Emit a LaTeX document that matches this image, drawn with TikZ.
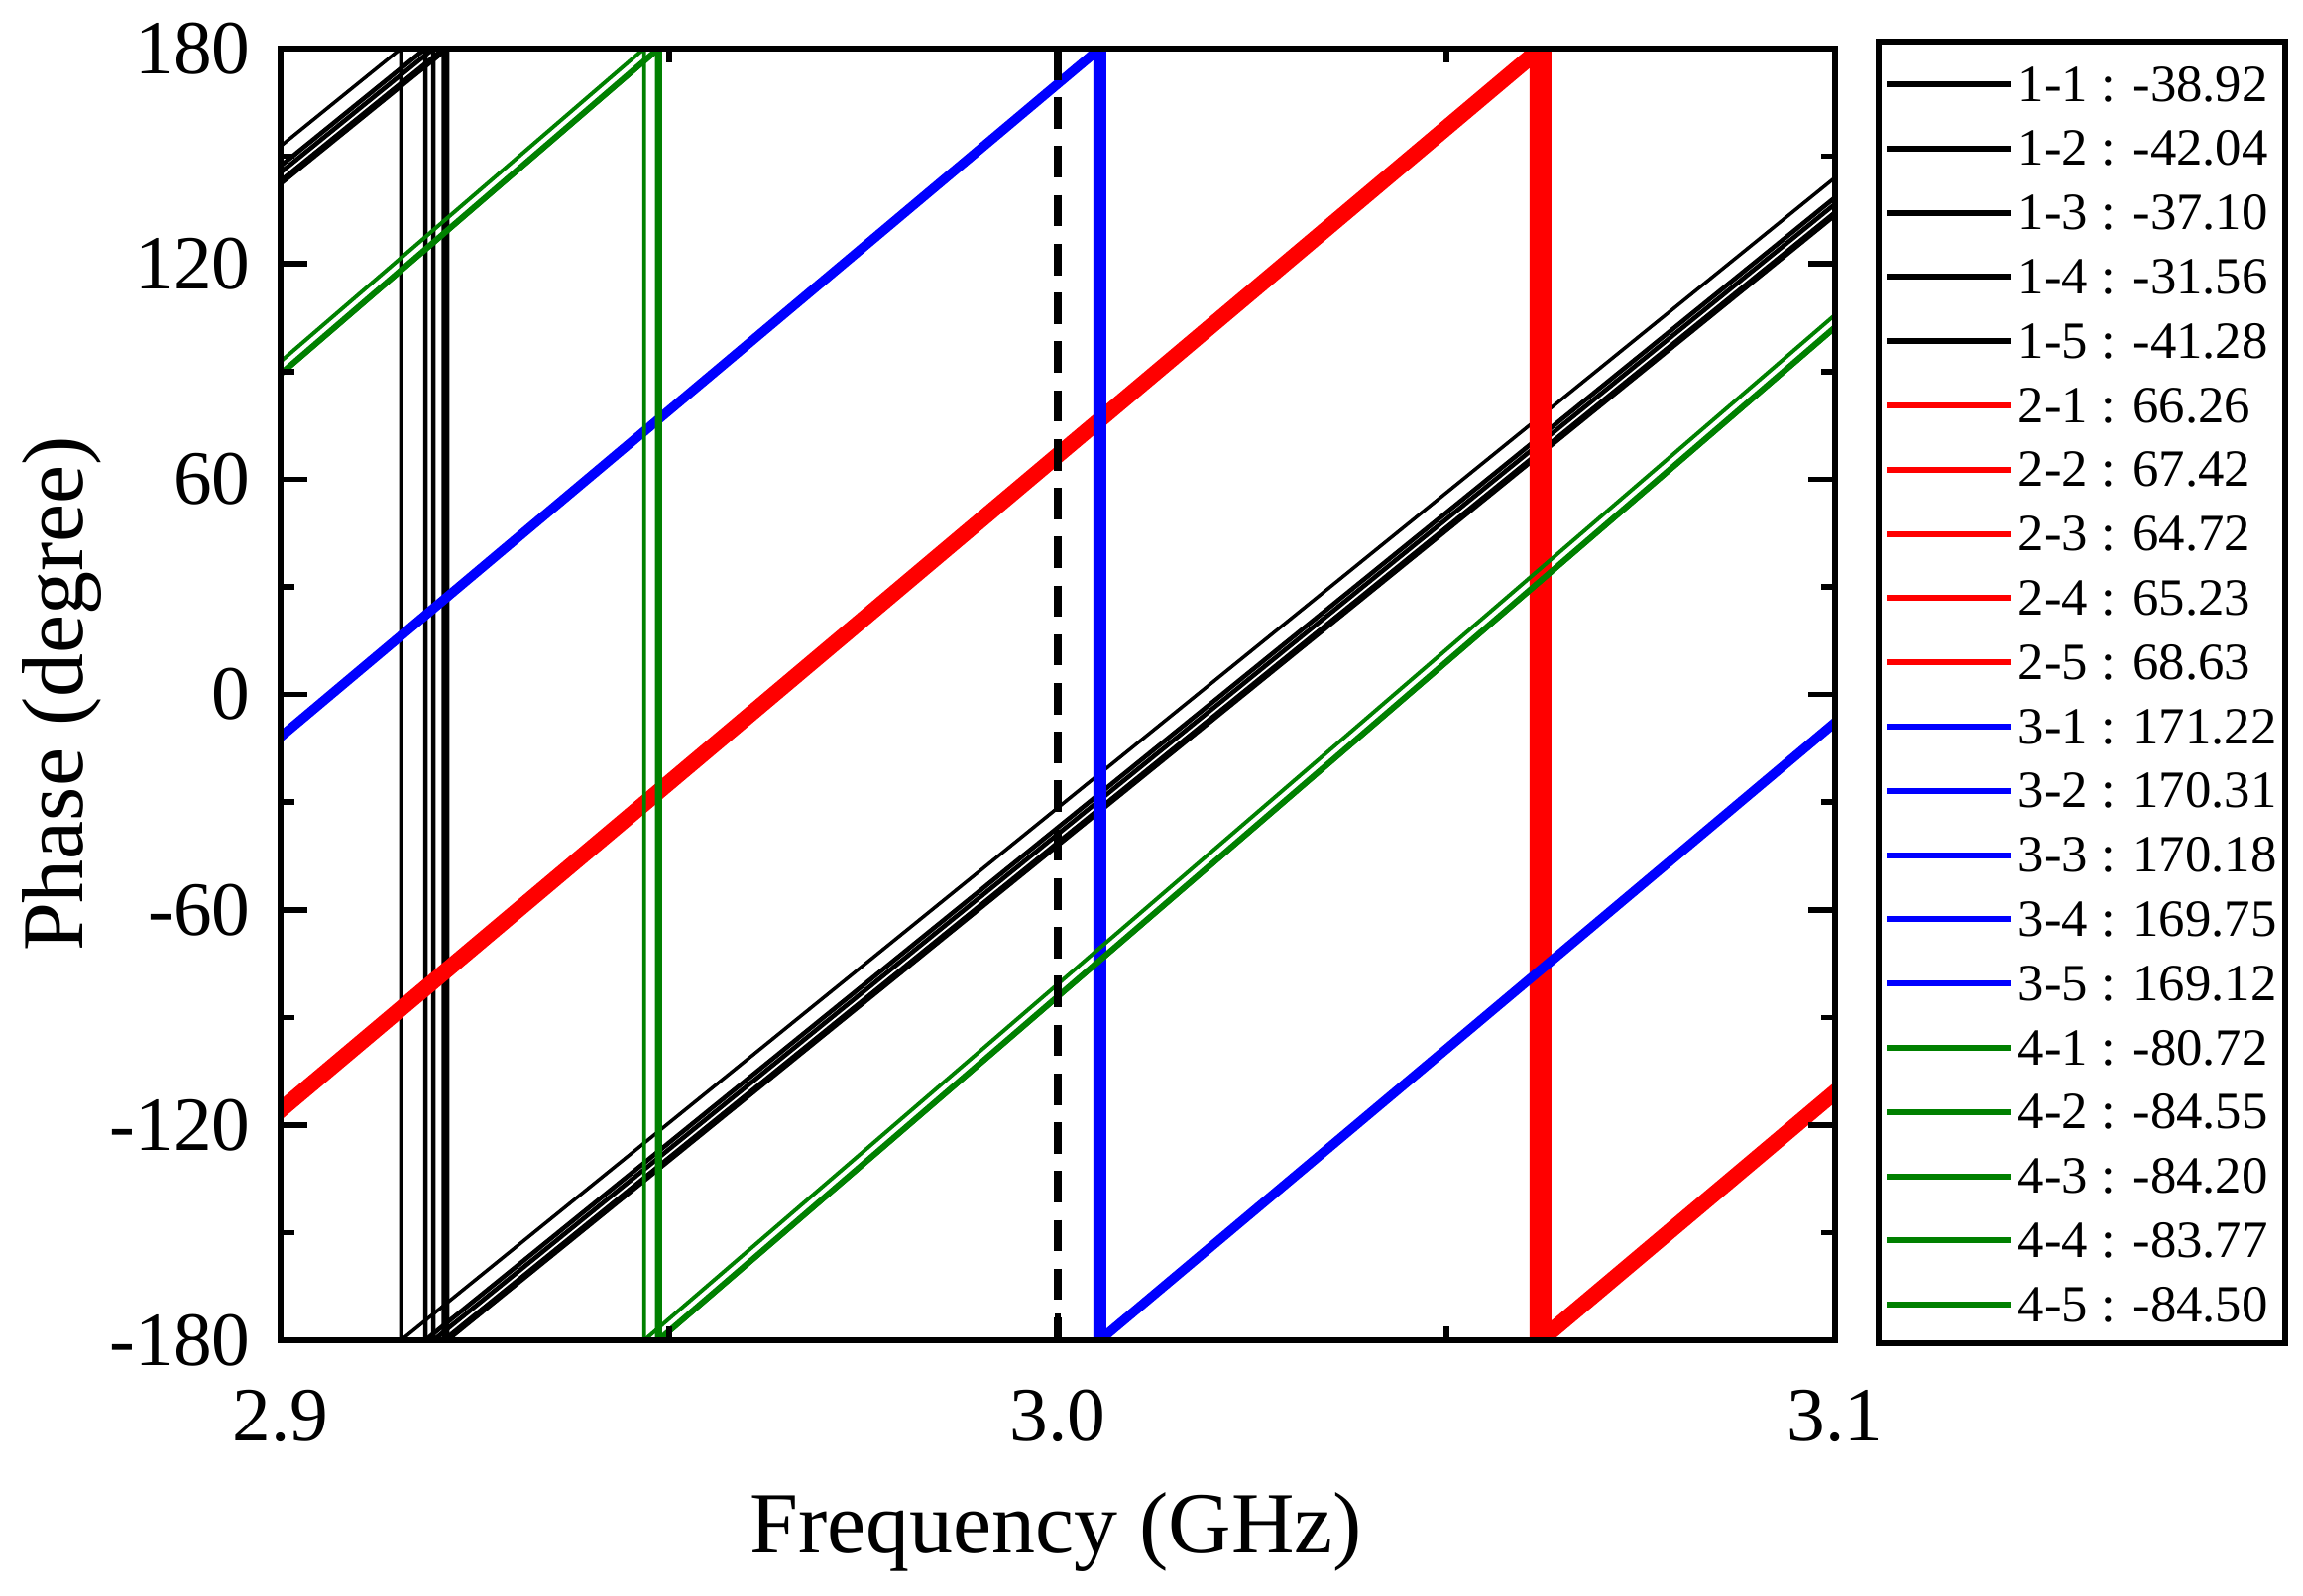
\documentclass[tikz,border=0pt]{standalone}
\usepackage{fontspec}
\setmainfont{Liberation Serif}
\definecolor{pgreen}{RGB}{0,128,0}
\definecolor{pblue}{RGB}{0,0,255}
\definecolor{pred}{RGB}{255,0,0}
\newcommand\phaseline[4]{%
\begin{scope}
\clip (283,49) rectangle (1851,1352);
\foreach \k in {-1,0,1}{
 \pgfmathsetmacro\fa{3+(-180-#2+360*\k)/#3}
 \pgfmathsetmacro\fb{3+(180-#2+360*\k)/#3}
 \pgfmathsetmacro\xa{283+(\fa-2.9)*7840}
 \pgfmathsetmacro\xb{283+(\fb-2.9)*7840}
 \draw[#1,line width=#4] (\xa,1352) -- (\xb,49) -- (\xb,1352);
}
\end{scope}}
\begin{document}
\begin{tikzpicture}[x=0.01cm,y=-0.01cm,
  tick/.style={line width=1.6pt},
  lab/.style={font=\fontsize{22}{24}\selectfont},
  leg/.style={font=\fontsize{15}{16}\selectfont,anchor=west,inner sep=0pt}]
\useasboundingbox (0,0) rectangle (2323,1610);
% series
\foreach \v in {-38.92,-42.04,-37.10,-41.28}{\phaseline{black}{\v}{1756}{1.3pt}}
\phaseline{black}{-31.56}{1756}{1.0pt}
\foreach \v in {66.26,67.42,64.72,65.23,68.63}{\phaseline{pred}{\v}{1825}{1.5pt}}
\foreach \v in {171.22,170.31,170.18,169.75,169.12}{\phaseline{pblue}{\v}{1820}{1.1pt}}
\foreach \v in {-80.72,-84.20,-84.50,-84.55,-83.77}{\phaseline{pgreen}{\v}{1865}{1.1pt}}
% dashed 3.0
\coordinate (dtop) at (1067,49);
\coordinate (dbot) at (1067,1352);
\draw[line width=2pt,dash pattern=on 9pt off 5pt] (dtop) -- (dbot);
% frame
\draw[line width=1.8pt] (283,49) rectangle (1851,1352);
% y ticks
\foreach \d [count=\i] in {180,120,60,0,-60,-120,-180}{
  \pgfmathsetmacro\yy{49+(180-\d)*3.62}
  \draw[tick] (283,\yy) -- (310,\yy);
  \draw[tick] (1851,\yy) -- (1824,\yy);
  \node[lab,anchor=east] (yl\i) at (265,\yy) {\d};
}
\foreach \d in {150,90,30,-30,-90,-150}{
  \pgfmathsetmacro\yy{49+(180-\d)*3.62}
  \draw[tick] (283,\yy) -- (297,\yy);
  \draw[tick] (1851,\yy) -- (1837,\yy);
}
% x ticks
\foreach \f/\t [count=\i] in {2.9/2.9,3.0/3.0,3.1/3.1}{
  \pgfmathsetmacro\xx{283+(\f-2.9)*7840}
  \draw[tick] (\xx,1352) -- (\xx,1325);
  \draw[tick] (\xx,49) -- (\xx,76);
  \node[lab,anchor=north] (xl\i) at (\xx,1390) {\t};
}
\foreach \f in {2.95,3.05}{
  \pgfmathsetmacro\xx{283+(\f-2.9)*7840}
  \draw[tick] (\xx,1352) -- (\xx,1338);
  \draw[tick] (\xx,49) -- (\xx,63);
}
\node[font=\fontsize{25}{28}\selectfont] (xt) at (1065,1545) {Frequency (GHz)};
\node[font=\fontsize{25}{28}\selectfont,rotate=90] (yt) at (62,700) {Phase (degree)};
% legend
\draw[line width=1.8pt] (1895,42) rectangle (2305,1355);
\foreach \c/\t [count=\i] in {black/1-1 : -38.92,black/1-2 : -42.04,black/1-3 : -37.10,black/1-4 : -31.56,black/1-5 : -41.28,
 pred/2-1 : 66.26,pred/2-2 : 67.42,pred/2-3 : 64.72,pred/2-4 : 65.23,pred/2-5 : 68.63,
 pblue/3-1 : 171.22,pblue/3-2 : 170.31,pblue/3-3 : 170.18,pblue/3-4 : 169.75,pblue/3-5 : 169.12,
 pgreen/4-1 : -80.72,pgreen/4-2 : -84.55,pgreen/4-3 : -84.20,pgreen/4-4 : -83.77,pgreen/4-5 : -84.50}{
  \pgfmathsetmacro\yy{85+(\i-1)*64.8}
  \coordinate (ls\i) at (1903,\yy);
  \coordinate (le\i) at (2028,\yy);
  \draw[\c,line width=1.7pt] (ls\i) -- (le\i);
  \node[leg] (lt\i) at (2035,\yy) {\t};
}
\end{tikzpicture}
\end{document}
